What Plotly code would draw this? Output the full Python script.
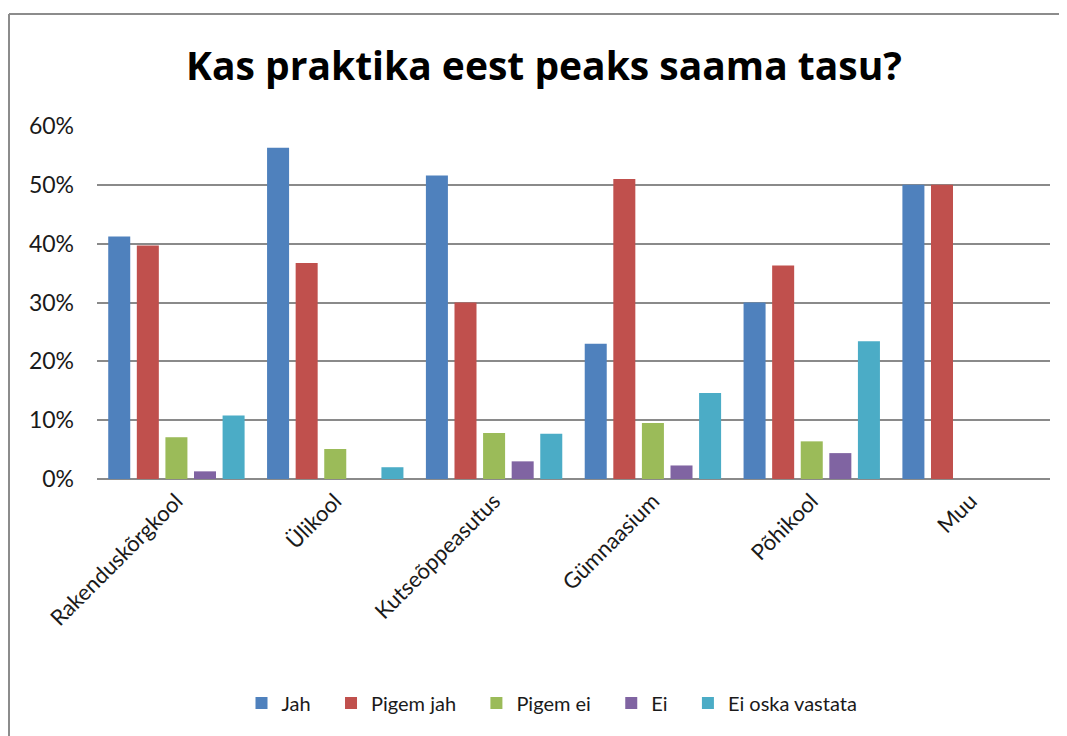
import plotly.graph_objects as go

categories = ["Rakenduskõrgkool", "Ülikool", "Kutseõppeasutus", "Gümnaasium", "Põhikool", "Muu"]

jah = [0.412, 0.563, 0.516, 0.230, 0.300, 0.500]
pigem_jah = [0.397, 0.367, 0.300, 0.510, 0.363, 0.500]
pigem_ei = [0.071, 0.051, 0.078, 0.095, 0.064, 0]
ei = [0.013, 0, 0.030, 0.023, 0.044, 0]
ei_oska = [0.108, 0.020, 0.077, 0.146, 0.234, 0]

series = [("Jah", jah, "#4F81BD"),
          ("Pigem jah", pigem_jah, "#C0504D"),
          ("Pigem ei", pigem_ei, "#9BBB59"),
          ("Ei", ei, "#8064A2"),
          ("Ei oska vastata", ei_oska, "#4BACC6")]

fig = go.Figure()
for i, (name, vals, col) in enumerate(series):
    # a little extra room after each legend entry, like the original
    pad = "\u00a0\u00a0\u00a0" if i < len(series) - 1 else ""
    fig.add_trace(go.Bar(x=categories, y=vals, name=name + pad, marker_color=col,
                         marker_line_width=0))

# page body has an 8px margin, positions are page pixels minus that offset
OFF = 8
FW, FH = 1067, 736
L, T = 97 - OFF, 126 - OFF
R = FW - (1050 - OFF)
B = FH - (479 - OFF)
W = FW - L - R
H = FH - T - B

fig.update_layout(
    width=FW, height=FH,
    margin=dict(l=L, r=R, t=T, b=B),
    plot_bgcolor="white",
    paper_bgcolor="white",
    font=dict(family="Lato, 'Open Sans', sans-serif", size=22, color="#1a1a1a"),
    title=dict(text="<b>Kas praktika eest peaks saama tasu?</b>",
               x=(544 - OFF - L) / W, xref="paper", xanchor="center",
               y=1 - (66 - OFF) / FH, yanchor="middle",
               font=dict(family="'Open Sans', sans-serif", size=39, color="black")),
    barmode="group",
    bargap=0.10,
    bargroupgap=0.23,
    showlegend=True,
    legend=dict(orientation="h", x=(552 - OFF - L) / W, xanchor="center",
                y=-(703 - 479) / H, yanchor="middle",
                font=dict(size=20), itemwidth=30, traceorder="normal"),
)

fig.update_yaxes(range=[0, 0.6], dtick=0.1, tickformat=".0%",
                 showgrid=True, gridcolor="#8a8a8a", gridwidth=1.5,
                 zeroline=True, zerolinecolor="#8a8a8a", zerolinewidth=1.5,
                 ticks="", ticklabelstandoff=22, tickfont=dict(size=23))
fig.update_xaxes(tickangle=-45, showline=False, ticks="", ticklabelstandoff=4)

# outer chart frame: only the top and left edges are visible in the image
fx0 = (9 - OFF - L) / W
fx1 = (1067 - OFF - L) / W
fy1 = 1 + (T - (14 - OFF)) / H
fig.add_shape(type="line", xref="paper", yref="paper",
              x0=fx0, x1=fx1, y0=fy1, y1=fy1,
              line=dict(color="#8c8c8c", width=2))
fig.add_shape(type="line", xref="paper", yref="paper",
              x0=fx0, x1=fx0, y0=fy1, y1=-(736 - 479) / H,
              line=dict(color="#8c8c8c", width=2))

fig.write_html("out.html", config={"displayModeBar": False})
